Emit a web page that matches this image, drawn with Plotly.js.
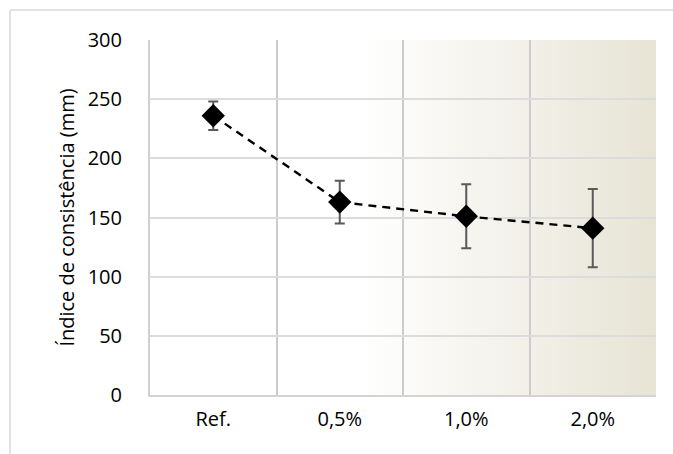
<!DOCTYPE html>
<html>
<head>
<meta charset="utf-8">
<script src="https://cdn.plot.ly/plotly-3.0.1.min.js"></script>
<style>html,body{margin:0;padding:0;background:#fff}#chart{width:673px;height:454px}</style>
</head>
<body>
<div id="chart"></div>
<script>
const categories = ["Ref.", "0,5%", "1,0%", "2,0%"];
const values = [236, 163, 151, 141];
const errPlus = [12, 18, 27, 33];
const errMinus = [12, 18, 27, 33];
const yTicks = [0, 50, 100, 150, 200, 250, 300];

const W = 673, H = 454, L = 150, R = 17, T = 40, B = 59;
const pw = W - L - R, ph = H - T - B;
function px(x){ return (x - L) / pw; }
function py(y){ return 1 - (y - T) / ph; }

const svg = '<svg xmlns="http://www.w3.org/2000/svg" width="500" height="100" preserveAspectRatio="none">' +
  '<defs><linearGradient id="g" x1="0" y1="0" x2="1" y2="0">' +
  '<stop offset="0" stop-color="#ffffff"/><stop offset="0.42" stop-color="#ffffff"/>' +
  '<stop offset="1" stop-color="#e7e4d6"/></linearGradient></defs>' +
  '<rect width="500" height="100" fill="url(#g)"/></svg>';
const bgUri = 'data:image/svg+xml;base64,' + btoa(svg);

const trace = {
  x: categories,
  y: values,
  type: 'scatter',
  mode: 'lines+markers',
  line: {color: '#000', width: 2.4, dash: '8px,6px'},
  marker: {symbol: 'diamond', size: 18, color: '#000'},
  error_y: {type: 'data', symmetric: false, array: errPlus, arrayminus: errMinus,
            color: '#5a5a5a', thickness: 2, width: 5},
  hoverinfo: 'none'
};

const layout = {
  width: W, height: H,
  margin: {l: L, r: R, t: T, b: B, pad: 0},
  paper_bgcolor: '#fff',
  plot_bgcolor: 'rgba(0,0,0,0)',
  showlegend: false,
  font: {family: 'Open Sans, Liberation Sans, Arial, sans-serif', size: 20, color: '#000'},
  xaxis: {
    type: 'category', range: [-0.5, 3.5], tickson: 'boundaries',
    showgrid: true, gridcolor: '#cccccc', gridwidth: 2,
    showline: true, linecolor: '#d4d4d4', linewidth: 2,
    ticks: '', zeroline: false, fixedrange: true, ticklabelstandoff: 5,
    tickfont: {size: 20, color: '#000'}
  },
  yaxis: {
    range: [0, 300], tickvals: yTicks, ticktext: yTicks.map(String),
    showgrid: true, gridcolor: '#dcdcdc', gridwidth: 2,
    showline: true, linecolor: '#d0d0d0', linewidth: 2,
    ticks: '', zeroline: false, fixedrange: true, ticklabelstandoff: 22,
    tickfont: {size: 20, color: '#000'},
    title: {text: 'Índice de consistência (mm)', font: {size: 20, color: '#000'}, standoff: 8}
  },
  images: [{
    source: bgUri, xref: 'paper', yref: 'paper', x: 0, y: 1, sizex: 1, sizey: 1,
    xanchor: 'left', yanchor: 'top', sizing: 'stretch', layer: 'below'
  }],
  shapes: [
    {type: 'line', xref: 'paper', yref: 'paper', x0: px(10), x1: px(10), y0: py(10), y1: py(454),
     line: {color: '#d9d9d9', width: 1.5}},
    {type: 'line', xref: 'paper', yref: 'paper', x0: px(10), x1: px(673), y0: py(10), y1: py(10),
     line: {color: '#d9d9d9', width: 1.5}}
  ]
};

Plotly.newPlot('chart', [trace], layout, {displayModeBar: false, staticPlot: true});
</script>
</body>
</html>
